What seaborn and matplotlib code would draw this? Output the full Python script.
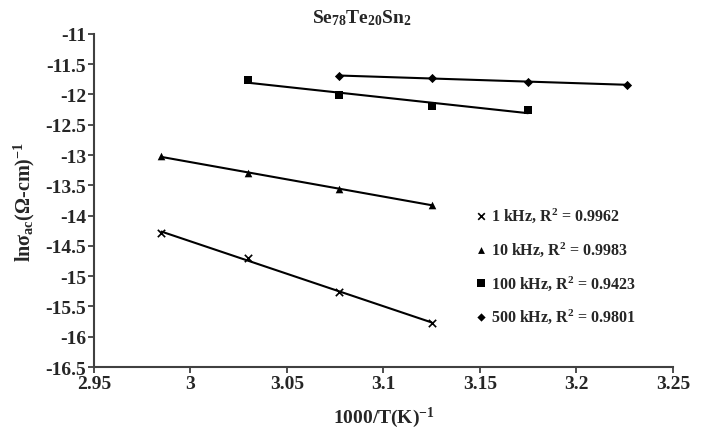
import numpy as np
import pandas as pd
import matplotlib
matplotlib.use("Agg")
import matplotlib.pyplot as plt
import seaborn as sns

# data: 1000/T and ln(sigma_ac) for each frequency
x_1k = [2.985, 3.030, 3.077, 3.125]
y_1k = [-14.29, -14.70, -15.26, -15.77]
x_10k = [2.985, 3.030, 3.077, 3.125]
y_10k = [-13.02, -13.30, -13.56, -13.82]
x_100k = [3.030, 3.077, 3.125, 3.175]
y_100k = [-11.76, -12.01, -12.19, -12.26]
x_500k = [3.077, 3.125, 3.175, 3.226]
y_500k = [-11.69, -11.73, -11.79, -11.84]

labels = ["1 kHz, R$^{\\mathbf{2}}$ = 0.9962",
          "10 kHz, R$^{\\mathbf{2}}$ = 0.9983",
          "100 kHz, R$^{\\mathbf{2}}$ = 0.9423",
          "500 kHz, R$^{\\mathbf{2}}$ = 0.9801"]
markers = ["x", "^", "s", "D"]
msizes = [28, 30, 34, 22]

df = pd.concat([
    pd.DataFrame({"x": x_1k, "y": y_1k, "freq": labels[0]}),
    pd.DataFrame({"x": x_10k, "y": y_10k, "freq": labels[1]}),
    pd.DataFrame({"x": x_100k, "y": y_100k, "freq": labels[2]}),
    pd.DataFrame({"x": x_500k, "y": y_500k, "freq": labels[3]}),
])

sns.set_style("ticks")
plt.rcParams["font.family"] = ["Liberation Serif", "DejaVu Serif"]
plt.rcParams["font.weight"] = "bold"
plt.rcParams["mathtext.fontset"] = "custom"
plt.rcParams["mathtext.rm"] = "Liberation Serif:bold"
plt.rcParams["mathtext.bf"] = "Liberation Serif:bold"
plt.rcParams["mathtext.it"] = "Liberation Serif:bold"

fig = plt.figure(figsize=(7.06, 4.31), dpi=100)
ax = fig.add_axes([0.133, 0.146, 0.820, 0.773])

for lab, m, s in zip(labels, markers, msizes):
    sub = df[df["freq"] == lab]
    sns.regplot(data=sub, x="x", y="y", ax=ax, ci=None, scatter=False,
                color="black", line_kws={"lw": 1.5})
    sns.scatterplot(data=sub, x="x", y="y", ax=ax, marker=m, s=s,
                    color="black", edgecolor="black",
                    linewidth=1.2 if m == "x" else 0, label=lab, zorder=3)

ax.set_xlim(2.95, 3.25)
ax.set_ylim(-16.5, -11)
ax.set_xticks(np.arange(2.95, 3.2501, 0.05))
ax.set_xticklabels(["2.95", "3", "3.05", "3.1", "3.15", "3.2", "3.25"])
ax.set_yticks(np.arange(-16.5, -10.99, 0.5))
ax.set_yticklabels(["-16.5", "-16", "-15.5", "-15", "-14.5", "-14", "-13.5",
                    "-13", "-12.5", "-12", "-11.5", "-11"])
ax.tick_params(labelsize=14, length=4, width=1.3, color="#404040", pad=1.5)
for t in ax.get_xticklabels() + ax.get_yticklabels():
    t.set_fontweight("bold")

for sp in ["left", "bottom"]:
    ax.spines[sp].set_color("#404040")
    ax.spines[sp].set_linewidth(1.5)
sns.despine(ax=ax)

ax.set_xlabel("1000/T(K)$^{\\mathbf{-1}}$", fontsize=14, fontweight="bold", labelpad=9)
ax.set_ylabel("ln\u03c3$_{\\mathbf{ac}}$(\u03a9-cm)$^{\\mathbf{-1}}$", fontsize=14.5,
              fontweight="bold", labelpad=6)
ax.set_title("Se$_{\\mathbf{78}}$Te$_{\\mathbf{20}}$Sn$_{\\mathbf{2}}$", fontsize=14,
             fontweight="bold", pad=8, x=0.463)

ax.legend(loc="center left", bbox_to_anchor=(0.63, 0.305), frameon=False,
          fontsize=11.5, handletextpad=0.1, handlelength=1.0,
          labelspacing=0.95, markerscale=0.9)

fig.savefig("out.png", dpi=100)
